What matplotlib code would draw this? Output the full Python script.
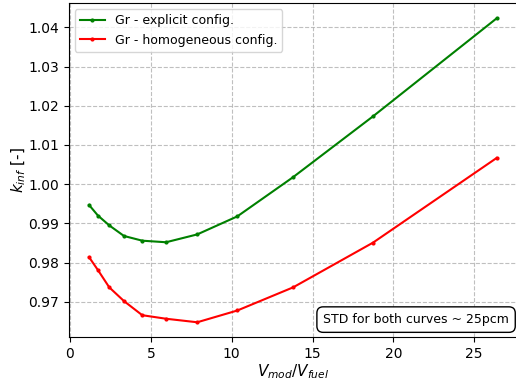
import matplotlib
matplotlib.use("Agg")
import matplotlib.pyplot as plt

ratio = [1.18, 1.73, 2.43, 3.34, 4.47, 5.94, 7.87, 10.35, 13.80, 18.74, 26.39]
kinf_explicit = [0.9947, 0.9920, 0.9895, 0.9868, 0.9856, 0.9852, 0.9872, 0.9918, 1.0018, 1.0173, 1.0423]
kinf_homog = [0.9814, 0.9781, 0.9737, 0.9702, 0.9666, 0.9657, 0.9648, 0.9678, 0.9737, 0.9851, 1.0067]
labels = ["Gr - explicit config.", "Gr - homogeneous config."]

fig = plt.figure(figsize=(5.16, 3.87), dpi=100)
ax = fig.add_axes([0.1331, 0.128, 0.869, 0.864])
ax.plot(ratio, kinf_explicit, color="green", marker=".", markersize=4, linewidth=1.5, label=labels[0])
ax.plot(ratio, kinf_homog, color="red", marker=".", markersize=4, linewidth=1.5, label=labels[1])
ax.grid(True, linestyle="--", color="#b0b0b0", alpha=0.8)
ax.set_xlabel(r"$V_{mod}/V_{fuel}$", fontsize=11, labelpad=1)
ax.set_ylabel(r"$k_{inf}$ [-]", fontsize=11, labelpad=0)
ax.set_yticks([0.97, 0.98, 0.99, 1.00, 1.01, 1.02, 1.03, 1.04])
ax.set_xticks([0, 5, 10, 15, 20, 25])
ax.legend(loc="upper left", fontsize=9)
ax.text(0.982, 0.034, "STD for both curves ~ 25pcm", transform=ax.transAxes,
        ha="right", va="bottom", fontsize=9,
        bbox=dict(boxstyle="round,pad=0.5", facecolor="white", edgecolor="black"))
fig.savefig("out.png", dpi=100)
